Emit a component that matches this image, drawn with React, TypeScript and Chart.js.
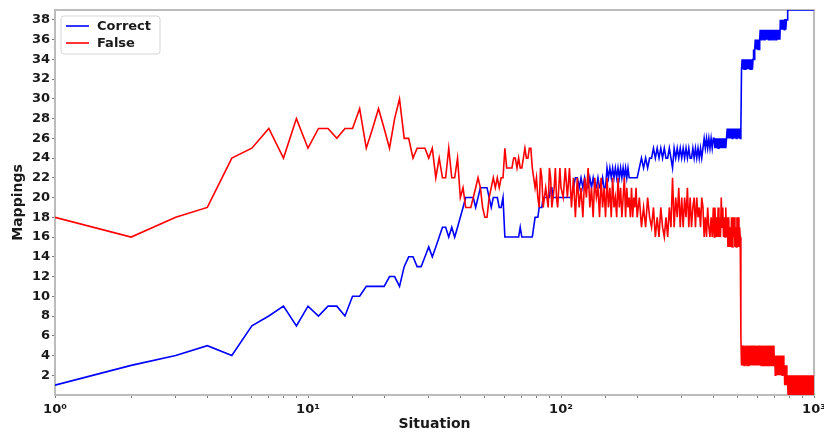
import React, { useEffect, useRef } from 'react';
import { Chart, registerables } from 'chart.js';

Chart.register(...registerables);

// Situation indices (x values) for each stretch of the curves
const range = (start: number, end: number, step: number): number[] => {
  const out: number[] = [];
  for (let v = start; v <= end; v += step) out.push(v);
  return out;
};
const situationsEarly = range(1, 100, 1);
const situationsMid = range(102, 200, 2);
const situationsLate = range(204, 400, 4);
const situationsTail = range(403, 1000, 3);

// Correct mappings
const correctEarly = [
  1, 3, 4, 5, 4, 7, 8, 9, 7, 9,
  8, 9, 9, 8, 10, 10, 11, 11, 11, 11,
  12, 12, 11, 13, 14, 14, 13, 13, 14, 15,
  14, 15, 16, 17, 17, 16, 17, 16, 17, 18,
  19, 20, 20, 20, 20, 19, 20, 21, 21, 21,
  21, 20, 19, 20, 20, 20, 19, 19, 20, 16,
  16, 16, 16, 16, 16, 16, 16, 16, 17, 16,
  16, 16, 16, 16, 16, 16, 16, 17, 18, 18,
  18, 19, 19, 19, 20, 20, 20, 20, 20, 20,
  21, 21, 20, 20, 20, 20, 20, 20, 20, 20,
];
const correctMid = [
  20, 20, 20, 20, 20,
  21, 22, 22, 21, 22, 21, 22, 21, 21, 22, 21, 22, 21, 21, 22, 21, 21, 22, 21, 21,
  23, 22, 23, 22, 23, 22, 23, 22, 23, 22, 23, 22, 23, 22, 23, 22, 23,
  22, 22, 22, 22, 22, 22, 22, 22,
];
const correctLate = [
  23, 24, 23, 24, 23, 24, 24,
  25, 24, 25, 24, 25, 24, 25, 24, 24, 25, 24, 23, 25, 24, 25, 24, 25, 24,
  25, 24, 25, 24, 25, 24, 24, 25, 24, 25, 24, 25, 24, 25, 24, 25,
  26, 25, 26, 25, 26, 25, 26, 25, 26,
];
const correctTail = [
  26, 25, 26, 25, 26, 25, 26, 25, 26, 25, 26, 25, 26, 25, 26, 25, 26,
  27, 26, 27, 26, 27, 26, 27, 26, 27, 26, 27, 26, 27, 26, 27, 26, 27, 26, 27, 26,
  27,
  33, 34, 33, 34, 33, 34, 33, 34, 33, 34, 33, 34, 33, 34, 33, 34, 33, 34, 33,
  34, 35, 34, 35, 36, 35, 36, 35, 36, 35, 36, 35,
  36, 37, 36, 36, 37, 36, 36, 37, 36, 36, 37, 36, 36, 37, 36, 36, 37, 36, 36, 37, 36,
  36, 37, 36, 36, 37, 36, 36, 37, 36, 36, 37, 36, 36, 37, 36, 36, 37, 36, 36, 37, 36,
  38, 37, 38, 37, 38, 38, 37, 38, 38, 37, 38, 38, 38, 37, 38, 38, 38,
  39, 39, 39, 39, 39, 39, 39, 39, 39,
  39, 39, 39, 39, 39, 39, 39, 39, 39,
  39, 39, 39, 39, 39, 39, 39, 39, 39,
  39, 39, 39, 39, 39, 39, 39, 39, 39,
  39, 39, 39, 39, 39, 39, 39, 39, 39,
  39, 39, 39, 39, 39, 39, 39, 39, 39,
  39, 39, 39, 39, 39, 39, 39, 39, 39,
  39, 39, 39, 39, 39, 39, 39, 39, 39,
];

// False mappings
const falseEarly = [
  18, 16, 18, 19, 24, 25, 27, 24, 28, 25,
  27, 27, 26, 27, 27, 29, 25, 27, 29, 27,
  25, 28, 30, 26, 26, 24, 25, 25, 25, 24,
  25, 22, 24, 22, 22, 25, 22, 22, 24, 20,
  21, 19, 19, 19, 20, 21, 22, 21, 19, 18,
  18, 20, 21, 22, 21, 22, 21, 22, 22, 25,
  23, 23, 23, 23, 24, 24, 23, 24, 23, 23,
  24, 25, 24, 24, 25, 25, 23, 22, 21, 22,
  20, 19, 23, 22, 19, 20, 21, 20, 19, 23,
  22, 19, 20, 21, 23, 20, 19, 21, 23, 21,
];
const falseMid = [
  20, 23, 20, 23, 19, 22, 18,
  22, 19, 21, 18, 22, 20, 23, 19, 21, 18, 22, 20, 21, 18, 22, 19, 21, 18,
  22, 19, 21, 18, 22, 19, 20, 18, 22, 19, 21, 18, 20, 22, 18, 21, 19, 20, 18, 21, 18, 20, 19, 21, 18,
];
const falseLate = [
  20, 17, 19, 17, 20, 18, 17,
  19, 16, 18, 16, 19, 17, 16, 18, 16, 19, 17,
  22, 17, 20, 18, 21, 17, 20, 17, 20, 18, 21, 17, 20, 17, 19, 20, 17, 20, 18, 19, 17, 20,
  19, 16, 18, 16, 19, 17, 16, 18, 16, 19,
];
const falseTail = [
  16, 19, 16, 18, 16, 19, 16, 18, 16, 20, 17, 19, 16, 18, 16, 19, 16,
  18, 15, 18, 15, 17, 15, 18, 15, 18, 16, 18, 15, 17, 15, 18, 15, 18, 15, 17, 16,
  6,
  3, 5, 3, 5, 3, 5, 4, 3, 5, 3, 5, 3, 5, 3, 5, 3, 5, 4, 3,
  5, 3, 5, 3, 5, 3, 4, 5, 3, 5, 3, 5, 3, 5, 4, 3, 5, 3, 5, 3, 5,
  3, 5, 3, 4, 5, 3, 5, 3, 5, 3, 5, 3, 5, 4, 3, 5, 3, 5, 3, 5, 3,
  4, 2, 4, 3, 2, 4, 2, 4, 2, 3, 4, 2, 4, 2, 4, 3, 2, 4, 2, 4, 2,
  3, 1, 3, 1, 2, 3, 1, 2,
  2, 0, 2, 0, 2, 1, 0, 2, 0, 2, 0, 1,
  2, 0, 2, 0, 2, 1, 0, 2, 0, 2, 0, 1,
  2, 0, 2, 0, 2, 1, 0, 2, 0, 2, 0, 1,
  2, 0, 2, 0, 2, 1, 0, 2, 0, 2, 0, 1,
  2, 0, 2, 0, 2, 1, 0, 2, 0, 2, 0, 1,
  2, 0, 2, 0, 2, 1, 0, 2, 0, 2, 0, 1,
];

const seriesLabels = ['Correct', 'False'];
const seriesColors = ['#0000ff', '#ff0000'];
const yTickValues = [2, 4, 6, 8, 10, 12, 14, 16, 18, 20, 22, 24, 26, 28, 30, 32, 34, 36, 38];
const xMajorTicks = [1, 10, 100, 1000];
const xMajorLabels = ['10\u2070', '10\u00b9', '10\u00b2', '10\u00b3'];

const FONT = "'DejaVu Sans', sans-serif";

function toPoints(xs: number[][], ys: number[][]) {
  const pts: { x: number; y: number }[] = [];
  xs.forEach((xa, s) => xa.forEach((x, i) => pts.push({ x, y: ys[s][i] })));
  return pts;
}

const framePlugin = {
  id: 'frame',
  beforeDatasetsDraw(chart: any) {
    const { ctx, chartArea: a } = chart;
    ctx.save();
    ctx.strokeStyle = '#bcbcbc';
    ctx.lineWidth = 2;
    ctx.strokeRect(a.left, a.top, a.right - a.left, a.bottom - a.top);
    ctx.restore();
  },
};

const innerLegend = {
  id: 'innerLegend',
  afterDatasetsDraw(chart: any) {
    const { ctx, chartArea: a } = chart;
    const x = a.left + 6;
    const y = a.top + 6;
    const w = 99;
    const h = 38;
    const r = 3;
    ctx.save();
    ctx.beginPath();
    ctx.moveTo(x + r, y);
    ctx.lineTo(x + w - r, y);
    ctx.quadraticCurveTo(x + w, y, x + w, y + r);
    ctx.lineTo(x + w, y + h - r);
    ctx.quadraticCurveTo(x + w, y + h, x + w - r, y + h);
    ctx.lineTo(x + r, y + h);
    ctx.quadraticCurveTo(x, y + h, x, y + h - r);
    ctx.lineTo(x, y + r);
    ctx.quadraticCurveTo(x, y, x + r, y);
    ctx.closePath();
    ctx.fillStyle = 'rgba(255,255,255,0.85)';
    ctx.fill();
    ctx.strokeStyle = '#d6d6d6';
    ctx.lineWidth = 1;
    ctx.stroke();
    seriesLabels.forEach((label, i) => {
      const ly = y + 10 + i * 17;
      ctx.strokeStyle = seriesColors[i];
      ctx.lineWidth = 1.6;
      ctx.beginPath();
      ctx.moveTo(x + 5, ly);
      ctx.lineTo(x + 28, ly);
      ctx.stroke();
      ctx.fillStyle = '#1a1a1a';
      ctx.font = `bold 13px ${FONT}`;
      ctx.textBaseline = 'middle';
      ctx.textAlign = 'left';
      ctx.fillText(label, x + 36, ly + 0.5);
    });
    ctx.restore();
  },
};

export default function App() {
  const canvasRef = useRef<HTMLCanvasElement | null>(null);

  useEffect(() => {
    const canvas = canvasRef.current;
    if (!canvas) return;
    const xs = [situationsEarly, situationsMid, situationsLate, situationsTail];
    const chart = new Chart(canvas, {
      type: 'line',
      data: {
        datasets: [
          {
            label: seriesLabels[0],
            data: toPoints(xs, [correctEarly, correctMid, correctLate, correctTail]),
            borderColor: seriesColors[0],
            backgroundColor: seriesColors[0],
            borderWidth: 1.6,
            pointRadius: 0,
            tension: 0,
            fill: false,
            order: 1,
          },
          {
            label: seriesLabels[1],
            data: toPoints(xs, [falseEarly, falseMid, falseLate, falseTail]),
            borderColor: seriesColors[1],
            backgroundColor: seriesColors[1],
            borderWidth: 1.6,
            pointRadius: 0,
            tension: 0,
            fill: false,
            order: 0,
          },
        ],
      },
      options: {
        animation: false,
        responsive: false,
        devicePixelRatio: 1,
        events: [],
        layout: { padding: { top: 10, right: 10, left: 0, bottom: 0 } },
        plugins: {
          legend: { display: false },
          tooltip: { enabled: false },
        },
        scales: {
          x: {
            type: 'logarithmic',
            min: 1,
            max: 1000,
            border: { display: false },
            grid: { display: true, drawOnChartArea: false, drawTicks: true, tickLength: 3, tickColor: '#7a7a7a' },
            ticks: {
              autoSkip: false,
              maxRotation: 0,
              minRotation: 0,
              padding: 4,
              color: '#1a1a1a',
              font: { family: FONT, size: 13, weight: 'bold' },
              callback: (v: any) => {
                const i = xMajorTicks.indexOf(Number(v));
                return i >= 0 ? xMajorLabels[i] : '';
              },
            },
            title: {
              display: true,
              text: 'Situation',
              color: '#1a1a1a',
              font: { family: FONT, size: 14, weight: 'bold' },
              padding: { top: 0, bottom: 1 },
            },
            afterFit: (s: any) => {
              s.height = 39;
              s.paddingLeft = 0;
              s.paddingRight = 0;
            },
          },
          y: {
            type: 'linear',
            min: 0,
            max: 39,
            border: { display: false },
            grid: { display: true, drawOnChartArea: false, drawTicks: true, tickLength: 3, tickColor: '#7a7a7a' },
            afterBuildTicks: (s: any) => {
              s.ticks = yTickValues.map((v) => ({ value: v }));
            },
            ticks: {
              padding: 2,
              color: '#1a1a1a',
              font: { family: FONT, size: 13, weight: 'bold' },
              callback: (v: any) => String(v),
            },
            title: {
              display: true,
              text: 'Mappings',
              color: '#1a1a1a',
              font: { family: FONT, size: 14, weight: 'bold' },
              padding: { top: 10, bottom: 0 },
            },
            afterFit: (s: any) => {
              s.width = 55;
              s.paddingTop = 0;
              s.paddingBottom = 0;
            },
          },
        },
      },
      plugins: [framePlugin, innerLegend],
    } as any);
    return () => chart.destroy();
  }, []);

  return (
    <div
      style={{
        position: 'absolute',
        left: 0,
        top: 0,
        width: 824,
        height: 434,
        overflow: 'hidden',
        background: '#ffffff',
      }}
    >
      <canvas ref={canvasRef} width={824} height={434} style={{ display: 'block', width: 824, height: 434 }} />
    </div>
  );
}
